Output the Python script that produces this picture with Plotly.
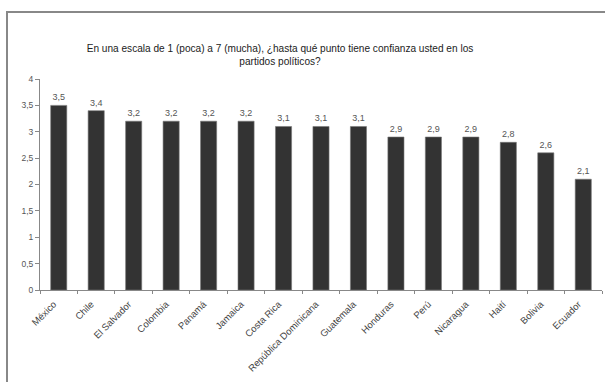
import plotly.graph_objects as go

paises = ["México", "Chile", "El Salvador", "Colombia", "Panamá", "Jamaica",
          "Costa Rica", "República Dominicana", "Guatemala", "Honduras", "Perú",
          "Nicaragua", "Haití", "Bolivia", "Ecuador"]
confianza = [3.5, 3.4, 3.2, 3.2, 3.2, 3.2, 3.1, 3.1, 3.1, 2.9, 2.9, 2.9, 2.8, 2.6, 2.1]
y_ticks = [0, 0.5, 1, 1.5, 2, 2.5, 3, 3.5, 4]
y_labels = ["0", "0,5", "1", "1,5", "2", "2,5", "3", "3,5", "4"]

W, H = 605, 382
ML, MR, MT, MB = 40, 3, 79, 92
pw, ph = W - ML - MR, H - MT - MB

fig = go.Figure(go.Bar(
    x=paises, y=confianza,
    marker=dict(color="#333333", line=dict(color="#777777", width=0.6)),
    width=0.43,
    texttemplate="%{y:.1f}", textposition="outside",
    textfont=dict(size=9, color="#555555", family="Liberation Sans, Arial"),
    cliponaxis=False,
))

# outer frame of the chart area (open on the right and bottom)
fig.add_shape(type="rect", xref="paper", yref="paper",
              x0=(7 - ML) / pw, x1=(W - ML + 20) / pw,
              y0=-(MB + 20) / ph, y1=(H - 12 - MB) / ph,
              line=dict(color="#888888", width=2), fillcolor="rgba(0,0,0,0)",
              layer="above")

fig.update_layout(
    width=W, height=H,
    margin=dict(l=ML, r=MR, t=MT, b=MB),
    paper_bgcolor="white", plot_bgcolor="white",
    separators=",.",
    showlegend=False,
    bargap=0.57,
    font=dict(family="Liberation Sans, Arial", color="#444444"),
    title=dict(
        text="En una escala de 1 (poca) a 7 (mucha), ¿hasta qué punto tiene confianza usted en los<br>partidos políticos?",
        x=280 / W, xanchor="center", y=1 - 52 / H, yanchor="top",
        font=dict(size=10.1, color="#222222", family="Liberation Sans, Arial"),
    ),
    xaxis=dict(
        tickangle=-45, tickson="boundaries", ticks="outside", ticklen=3,
        tickcolor="#888888", showline=True, linecolor="#888888", linewidth=1,
        tickfont=dict(size=9.5, color="#444444"), showgrid=False,
        ticklabelshift=-5, ticklabelstandoff=4,
        automargin=False,
    ),
    yaxis=dict(
        range=[0, 4], tickvals=y_ticks, ticktext=y_labels, ticks="outside", ticklen=4,
        tickcolor="#888888", showline=True, linecolor="#888888", linewidth=1,
        tickfont=dict(size=8.5, color="#555555"), showgrid=False, zeroline=False,
        automargin=False,
    ),
)

fig.write_html("out.html")
